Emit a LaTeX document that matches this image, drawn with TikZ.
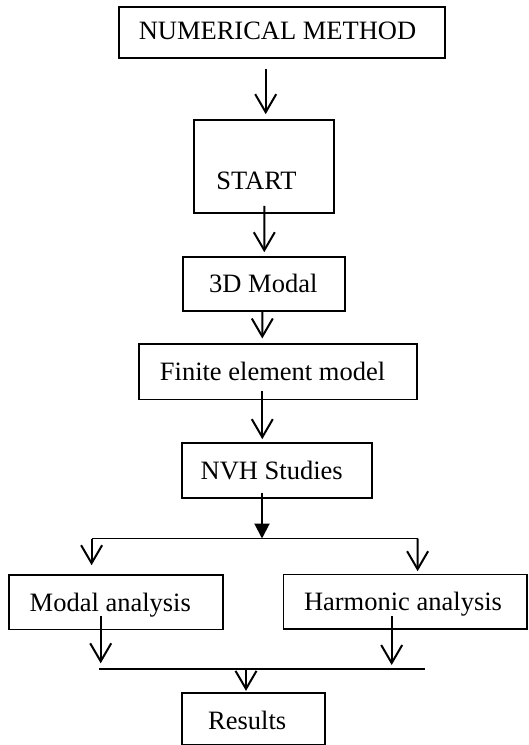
\documentclass[tikz,border=0pt]{standalone}
\usepackage{fontspec}
\setmainfont{Liberation Serif}
\usetikzlibrary{arrows.meta}

\tikzset{
  box/.style={draw, line width=1.7pt, rectangle, inner sep=0pt},
  boxtext/.style={inner sep=0pt, text height=17.5pt, text depth=0pt,
                  font=\fontsize{26.5}{30}\selectfont},
  arr/.style={line width=2pt, -{Straight Barb[length=18pt,width=21pt,line width=2pt]}},
  farr/.style={line width=2pt, -{Triangle[length=15pt,width=15pt]}},
  bus/.style={line width=1.6pt},
}

\begin{document}
\begin{tikzpicture}[x=1pt,y=-1pt]
\useasboundingbox (0,0) rectangle (528,745);

% boxes (centre, size); captions placed with small offsets inside
\node[box, minimum width=326pt, minimum height=51pt,
      label={[boxtext, xshift=-4.5pt, yshift=2.2pt]center:NUMERICAL METHOD}]
      (nm) at (282,32.7) {};
\node[box, minimum width=140pt, minimum height=93pt,
      label={[boxtext, xshift=-7.5pt, yshift=-14.3pt]center:START}]
      (start) at (264,166.5) {};
\node[box, minimum width=162.3pt, minimum height=54.3pt,
      label={[boxtext, xshift=-0.6pt]center:3D Modal}]
      (m3d) at (263.9,283.9) {};
\node[box, minimum width=278pt, minimum height=55.3pt,
      label={[boxtext, xshift=-5.5pt, yshift=0.4pt]center:Finite element model}]
      (fem) at (278,371.7) {};
\node[box, minimum width=190pt, minimum height=54.4pt,
      label={[boxtext, xshift=-5pt, yshift=-0.3pt]center:NVH Studies}]
      (nvh) at (276.7,470.5) {};
\node[box, minimum width=213.7pt, minimum height=54.3pt,
      label={[boxtext, xshift=-5.5pt, yshift=-0.3pt]center:Modal analysis}]
      (modal) at (115.8,602.2) {};
\node[box, minimum width=243.7pt, minimum height=54.7pt,
      label={[boxtext, xshift=-2.2pt, yshift=-0.3pt]center:Harmonic analysis}]
      (harm) at (405.2,601.7) {};
\node[box, minimum width=143.3pt, minimum height=51.8pt,
      label={[boxtext, xshift=-6.1pt, yshift=-2.2pt]center:Results}]
      (res) at (253.3,718.6) {};

% junction points
\coordinate (br) at (262,538.5);
\coordinate (bl) at (91.6,538.5);
\coordinate (bR) at (417.6,538.5);
\coordinate (ml) at (99.3,669);
\coordinate (mr) at (425,669);
\coordinate (jl) at (100.7,669);
\coordinate (jr) at (391.7,669);
\coordinate (jm) at (246,669);

% main chain
\draw[arr] ([xshift=-16.3pt,yshift=-9.7pt]nm.south) -- ([xshift=1.7pt,yshift=5pt]start.north);
\draw[arr] ([xshift=0.3pt,yshift=8pt]start.south) -- ([xshift=0.4pt,yshift=3.7pt]m3d.north);
\draw[arr] ([xshift=-1.6pt]m3d.south) -- ([xshift=-15.7pt,yshift=4.7pt]fem.north);
\draw[arr] ([xshift=-15.7pt,yshift=9.3pt]fem.south) -- ([xshift=-14.4pt,yshift=3.3pt]nvh.north);
\draw[farr] ([xshift=-14.7pt,yshift=6pt]nvh.south) -- (br);

% split into the two analyses
\draw[bus] (bl) -- (bR);
\draw[arr] (bl) -- ([xshift=-24.2pt,yshift=9pt]modal.north);
\draw[arr] (bR) -- ([xshift=12.4pt,yshift=2.3pt]harm.north);

% merge towards the results
\draw[arr] ([xshift=-15.1pt,yshift=14.3pt]modal.south) -- ([yshift=5.7pt]jl);
\draw[arr] ([xshift=-13.5pt,yshift=14pt]harm.south) -- ([yshift=4pt]jr);
\draw[bus] (ml) -- (mr);
\draw[arr] (jm) -- ([xshift=-7.3pt,yshift=1pt]res.north);
\end{tikzpicture}
\end{document}
